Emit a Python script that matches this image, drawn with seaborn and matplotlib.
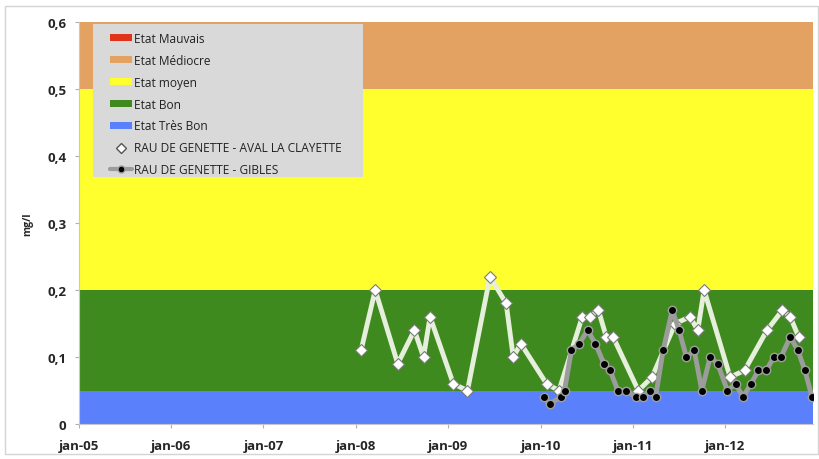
import matplotlib
matplotlib.use("Agg")
import matplotlib.pyplot as plt
import matplotlib.dates as mdates
from matplotlib.lines import Line2D
from matplotlib.patches import Patch, Rectangle
from matplotlib.ticker import FuncFormatter, MultipleLocator
import pandas as pd
import seaborn as sns

# quality classes (bands), bottom to top
band_labels = ["Etat Très Bon", "Etat Bon", "Etat moyen", "Etat Médiocre", "Etat Mauvais"]
band_limits = [0.0, 0.05, 0.2, 0.5, 0.6, 1.0]
band_colors = ["#5a80fc", "#3f8a1f", "#ffff2e", "#e4a262", "#e0341a"]

aval_label = "RAU DE GENETTE - AVAL LA CLAYETTE"
aval_dates = [
    "2008-01-22", "2008-03-18", "2008-06-15", "2008-08-20", "2008-09-25", "2008-10-21",
    "2009-01-21", "2009-03-18", "2009-06-15", "2009-08-18", "2009-09-15", "2009-10-15",
    "2010-01-25", "2010-03-15", "2010-06-15", "2010-07-15", "2010-08-18", "2010-09-18",
    "2010-10-15", "2011-01-23", "2011-03-18", "2011-06-18", "2011-08-15", "2011-09-15",
    "2011-10-10", "2012-01-21", "2012-03-18", "2012-06-15", "2012-08-15", "2012-09-15",
    "2012-10-18",
]
aval_values = [
    0.11, 0.20, 0.09, 0.14, 0.10, 0.16,
    0.06, 0.05, 0.22, 0.18, 0.10, 0.12,
    0.06, 0.05, 0.16, 0.16, 0.17, 0.13,
    0.13, 0.05, 0.07, 0.15, 0.16, 0.14,
    0.20, 0.07, 0.08, 0.14, 0.17, 0.16,
    0.13,
]

gibles_label = "RAU DE GENETTE - GIBLES"
gibles_dates = [
    "2010-01-15", "2010-02-06", "2010-03-21", "2010-04-06", "2010-05-03", "2010-06-03",
    "2010-07-06", "2010-08-06", "2010-09-09", "2010-10-03", "2010-11-03", "2010-12-06",
    "2011-01-12", "2011-02-12", "2011-03-09", "2011-04-01", "2011-05-01", "2011-06-06",
    "2011-07-03", "2011-08-01", "2011-09-01", "2011-10-01", "2011-11-03", "2011-12-03",
    "2012-01-10", "2012-02-12", "2012-03-12", "2012-04-12", "2012-05-12", "2012-06-12",
    "2012-07-12", "2012-08-09", "2012-09-15", "2012-10-15", "2012-11-12", "2012-12-10",
]
gibles_values = [
    0.04, 0.03, 0.04, 0.05, 0.11, 0.12,
    0.14, 0.12, 0.09, 0.08, 0.05, 0.05,
    0.04, 0.04, 0.05, 0.04, 0.11, 0.17,
    0.14, 0.10, 0.11, 0.05, 0.10, 0.09,
    0.05, 0.06, 0.04, 0.06, 0.08, 0.08,
    0.10, 0.10, 0.13, 0.11, 0.08, 0.04,
]

x_start = "2005-01-01"
x_end = "2012-12-14"
y_max = 0.6

sns.set_theme(style="white")
plt.rcParams["font.family"] = ["Open Sans", "DejaVu Sans"]

aval = pd.DataFrame({"date": pd.to_datetime(aval_dates), "value": aval_values})
gibles = pd.DataFrame({"date": pd.to_datetime(gibles_dates), "value": gibles_values})

fig = plt.figure(figsize=(8.2, 4.6), dpi=100)
ax = fig.add_axes([0.0963, 0.076, 0.8952, 0.874])

for lo, hi, color in zip(band_limits[:-1], band_limits[1:], band_colors):
    ax.axhspan(lo, hi, color=color, lw=0, zorder=0)

sns.lineplot(
    data=aval, x="date", y="value", ax=ax,
    color="#e6eedc", linewidth=3.5, marker="D", markersize=6,
    markerfacecolor="white", markeredgecolor="#7a7a7a", markeredgewidth=0.8,
    zorder=3,
)
sns.lineplot(
    data=gibles, x="date", y="value", ax=ax,
    color="#9c9c9c", linewidth=3.5, marker="o", markersize=6,
    markerfacecolor="black", markeredgecolor="#a0a0a0", markeredgewidth=1.0,
    zorder=4,
)

ax.set_xlim(pd.Timestamp(x_start), pd.Timestamp(x_end))
ax.set_ylim(0, y_max)
ax.xaxis.set_major_locator(mdates.YearLocator())
ax.xaxis.set_major_formatter(FuncFormatter(lambda v, p: "jan-" + mdates.num2date(v).strftime("%y")))
ax.yaxis.set_major_locator(MultipleLocator(0.1))
ax.yaxis.set_major_formatter(FuncFormatter(lambda v, p: "0" if abs(v) < 1e-9 else f"{v:.1f}".replace(".", ",")))

ax.tick_params(axis="both", which="major", length=3, width=0.8, color="#b0b0b0",
               labelsize=9.5, bottom=True, left=True)
ax.tick_params(axis="x", pad=8)
ax.tick_params(axis="y", pad=6)
for lab in ax.get_xticklabels() + ax.get_yticklabels():
    lab.set_fontweight("bold")

ax.set_xlabel("")
ax.set_ylabel("mg/l", fontsize=7.5, fontweight="bold", labelpad=10)

for side in ["top", "right"]:
    ax.spines[side].set_visible(False)
for side in ["left", "bottom"]:
    ax.spines[side].set_color("#c8c8c8")
    ax.spines[side].set_linewidth(0.8)

# grey legend box
ax.add_patch(Rectangle((0.019, 0.614), 0.368, 0.381, transform=ax.transAxes,
                       facecolor="#d9d9d9", edgecolor="none", zorder=4.9))

handles = [Patch(facecolor=c, edgecolor="none") for c in band_colors[::-1]]
labels = band_labels[::-1]
handles.append(Line2D([], [], linestyle="none", marker="D", markersize=5,
                      markerfacecolor="white", markeredgecolor="#555555"))
handles.append(Line2D([], [], color="#9c9c9c", linewidth=3, marker="o", markersize=5,
                      markerfacecolor="black", markeredgecolor="#9c9c9c"))
labels += [aval_label, gibles_label]

leg = ax.legend(
    handles, labels, loc="upper left", bbox_to_anchor=(0.042, 0.976),
    frameon=False, fontsize=8.6, handlelength=1.9, handleheight=0.55, handletextpad=0.1,
    labelspacing=0.75, borderpad=0, borderaxespad=0,
)
leg.set_zorder(5)
for t in leg.get_texts():
    t.set_color("#222222")

fig.patches.append(Rectangle((0.006, 0.01), 0.992, 0.975, transform=fig.transFigure,
                             fill=False, edgecolor="#d4d4d4", linewidth=1.0))

fig.savefig("out.png", dpi=100)
